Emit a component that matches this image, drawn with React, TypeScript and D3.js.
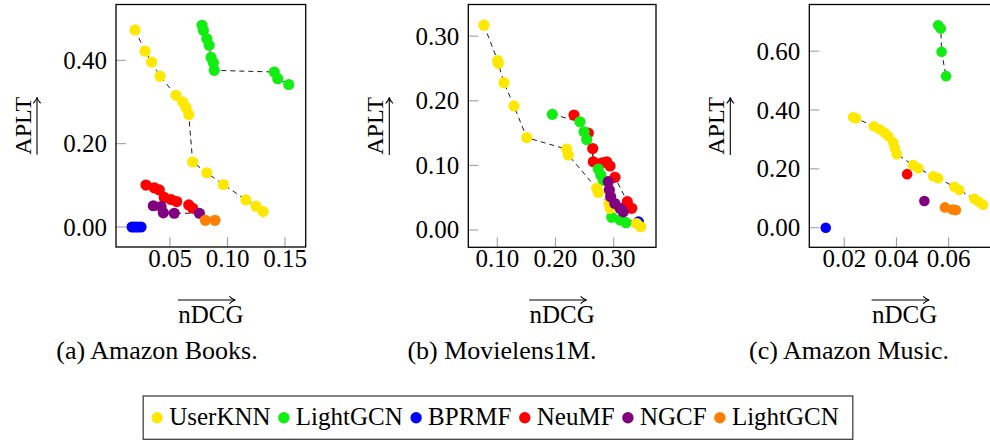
import { useEffect, useRef } from 'react';
import * as d3 from 'd3';

type Pt = [number, number];

// ── Data ──────────────────────────────────────────────────────────────
const seriesNames = ['UserKNN', 'LightGCN', 'BPRMF', 'NeuMF', 'NGCF', 'LightGCN'];
const seriesColors = ['#ffe800', '#12ee12', '#0000ff', '#ff0000', '#800080', '#ff8000'];
// which series are painted first (bottom) to last (top)
const drawOrder = [3, 1, 2, 0, 4, 5];

// (a) Amazon Books
const booksUserKNN: Pt[] = [[0.0196, 0.473], [0.0283, 0.422], [0.034, 0.396], [0.0413, 0.362], [0.0552, 0.316], [0.061, 0.300], [0.0639, 0.287], [0.0663, 0.270], [0.0697, 0.156], [0.082, 0.130], [0.0964, 0.102], [0.116, 0.065], [0.1248, 0.050], [0.131, 0.037]];
const booksLightGCN: Pt[] = [[0.0778, 0.484], [0.079, 0.472], [0.082, 0.452], [0.084, 0.436], [0.0857, 0.407], [0.0877, 0.394], [0.0885, 0.376], [0.1407, 0.372], [0.1437, 0.356], [0.1532, 0.342]];
const booksBPRMF: Pt[] = [[0.017, 0], [0.0195, 0], [0.022, 0], [0.0248, 0]];
const booksNeuMF: Pt[] = [[0.0291, 0.1006], [0.0363, 0.094], [0.0407, 0.089], [0.045, 0.071], [0.0509, 0.066], [0.0558, 0.061], [0.0663, 0.053], [0.0697, 0.045]];
const booksNGCF: Pt[] = [[0.0355, 0.051], [0.0422, 0.049], [0.0442, 0.034], [0.0537, 0.033], [0.0755, 0.033]];
const booksLightGCN2: Pt[] = [[0.0807, 0.016], [0.0891, 0.016]];

// (b) Movielens1M
const mlUserKNN: Pt[] = [[0.0771, 0.317], [0.1007, 0.262], [0.1017, 0.258], [0.1115, 0.228], [0.1287, 0.192], [0.1505, 0.143], [0.2192, 0.125], [0.222, 0.116], [0.2708, 0.0645], [0.2736, 0.058], [0.292, 0.041], [0.2937, 0.0336], [0.3395, 0.010], [0.3464, 0.005]];
const mlLightGCN: Pt[] = [[0.1945, 0.179], [0.242, 0.1675], [0.249, 0.152], [0.2536, 0.140], [0.2735, 0.0943], [0.2777, 0.085], [0.282, 0.077], [0.2966, 0.0196], [0.311, 0.0155], [0.3211, 0.0113]];
const mlBPRMF: Pt[] = [[0.3425, 0.0125]];
const mlNeuMF: Pt[] = [[0.2318, 0.178], [0.2564, 0.150], [0.2639, 0.126], [0.265, 0.1056], [0.280, 0.104], [0.288, 0.1056], [0.2937, 0.099], [0.3022, 0.0815], [0.3234, 0.0438], [0.331, 0.0336]];
const mlNGCF: Pt[] = [[0.2907, 0.0747], [0.2925, 0.062], [0.2948, 0.0515], [0.302, 0.041], [0.311, 0.0336], [0.3165, 0.028]];
const mlLightGCN2: Pt[] = [];

// (c) Amazon Music
const musicUserKNN: Pt[] = [[0.0234, 0.375], [0.0245, 0.372], [0.0313, 0.345], [0.0337, 0.334], [0.0356, 0.322], [0.0369, 0.311], [0.0388, 0.289], [0.0394, 0.270], [0.0401, 0.250], [0.0464, 0.213], [0.0484, 0.202], [0.0541, 0.175], [0.056, 0.168], [0.0622, 0.139], [0.0641, 0.128], [0.0698, 0.098], [0.0716, 0.088], [0.0732, 0.078]];
const musicLightGCN: Pt[] = [[0.056, 0.688], [0.057, 0.677], [0.0573, 0.598], [0.059, 0.515]];
const musicBPRMF: Pt[] = [[0.0129, 0.0]];
const musicNeuMF: Pt[] = [[0.0441, 0.182]];
const musicNGCF: Pt[] = [[0.0507, 0.091]];
const musicLightGCN2: Pt[] = [[0.0586, 0.069], [0.0615, 0.062], [0.0628, 0.060]];

const booksXTicks = [0.05, 0.10, 0.15];
const booksYTicks = [0, 0.2, 0.4];
const mlXTicks = [0.10, 0.20, 0.30];
const mlYTicks = [0, 0.1, 0.2, 0.3];
const musicXTicks = [0.02, 0.04, 0.06];
const musicYTicks = [0, 0.2, 0.4, 0.6];

const captions = ['(a) Amazon Books.', '(b) Movielens1M.', '(c) Amazon Music.'];

const FONT = "'Liberation Serif', Tinos, 'Times New Roman', Times, 'DejaVu Serif', serif";

const panels = [
  {
    caption: captions[0], captionX: 157,
    series: [booksUserKNN, booksLightGCN, booksBPRMF, booksNeuMF, booksNGCF, booksLightGCN2],
    xTicks: booksXTicks, yTicks: booksYTicks,
    left: 116, right: 305.7, top: 4.5, bottom: 247,
    xDomain: [0.00304, 0.168], yDomain: [-0.048, 0.534], r: 5.6,
  },
  {
    caption: captions[1], captionX: 502,
    series: [mlUserKNN, mlLightGCN, mlBPRMF, mlNeuMF, mlNGCF, mlLightGCN2],
    xTicks: mlXTicks, yTicks: mlYTicks,
    left: 468.3, right: 656, top: 4.5, bottom: 247.3,
    xDomain: [0.0502, 0.3727], yDomain: [-0.0268, 0.349], r: 5.6,
  },
  {
    caption: captions[2], captionX: 849,
    series: [musicUserKNN, musicLightGCN, musicBPRMF, musicNeuMF, musicNGCF, musicLightGCN2],
    xTicks: musicXTicks, yTicks: musicYTicks,
    left: 809.3, right: 1000, top: 4.5, bottom: 247.3,
    xDomain: [0.00659, 0.0797], yDomain: [-0.0666, 0.7586], r: 5.3,
  },
];

// LaTeX-ish long arrow head
function arrowHead(x: number, y: number, dir: 'right' | 'up') {
  if (dir === 'right') {
    return `M${x - 6},${y - 3.6} Q${x - 3},${y - 0.6} ${x},${y} Q${x - 3},${y + 0.6} ${x - 6},${y + 3.6}`;
  }
  return `M${x - 3.6},${y + 6} Q${x - 0.6},${y + 3} ${x},${y} Q${x + 0.6},${y + 3} ${x + 3.6},${y + 6}`;
}

export default function App() {
  const svgRef = useRef<SVGSVGElement>(null);

  useEffect(() => {
    const svg = d3.select(svgRef.current);
    svg.selectAll('*').remove();
    svg.style('font-family', FONT);

    panels.forEach((p) => {
      const x = d3.scaleLinear().domain(p.xDomain).range([p.left, p.right]);
      const y = d3.scaleLinear().domain(p.yDomain).range([p.bottom, p.top]);
      const g = svg.append('g');

      // ticks (inward, grey)
      g.selectAll('line.xt').data(p.xTicks).join('line')
        .attr('x1', d => x(d)).attr('x2', d => x(d))
        .attr('y1', p.bottom).attr('y2', p.bottom - 10)
        .attr('stroke', '#a0a0a0').attr('stroke-width', 1.1);
      g.selectAll('line.yt').data(p.yTicks).join('line')
        .attr('x1', p.left).attr('x2', p.left + 10)
        .attr('y1', d => y(d)).attr('y2', d => y(d))
        .attr('stroke', '#a0a0a0').attr('stroke-width', 1.1);

      // dashed connecting lines
      const line = d3.line<Pt>().x(d => x(d[0])).y(d => y(d[1]));
      drawOrder.forEach(si => {
        const pts = p.series[si];
        if (pts.length < 2) return;
        g.append('path')
          .attr('d', line(pts))
          .attr('fill', 'none')
          .attr('stroke', '#1a1a1a')
          .attr('stroke-width', 1)
          .attr('stroke-dasharray', '5,4');
      });

      // markers
      drawOrder.forEach(si => {
        g.append('g').selectAll('circle').data(p.series[si]).join('circle')
          .attr('cx', d => x(d[0]))
          .attr('cy', d => y(d[1]))
          .attr('r', p.r)
          .attr('fill', seriesColors[si]);
      });

      // frame
      g.append('rect')
        .attr('x', p.left).attr('y', p.top)
        .attr('width', p.right - p.left).attr('height', p.bottom - p.top)
        .attr('fill', 'none').attr('stroke', '#000').attr('stroke-width', 1.3);

      // tick labels
      g.selectAll('text.xl').data(p.xTicks).join('text')
        .attr('x', d => x(d)).attr('y', 267)
        .attr('text-anchor', 'middle')
        .attr('font-size', 25)
        .text(d => d.toFixed(2));
      g.selectAll('text.yl').data(p.yTicks).join('text')
        .attr('x', p.left - 9).attr('y', d => y(d))
        .attr('dy', '0.34em')
        .attr('text-anchor', 'end')
        .attr('font-size', 25)
        .text(d => d.toFixed(2));

      // x label with over-arrow
      const cx = (p.left + Math.min(p.right, 1000)) / 2;
      g.append('text')
        .attr('x', cx).attr('y', 322.7)
        .attr('text-anchor', 'middle')
        .attr('font-size', 25)
        .text('nDCG');
      g.append('line')
        .attr('x1', cx - 33).attr('x2', cx + 24)
        .attr('y1', 300).attr('y2', 300)
        .attr('stroke', '#000').attr('stroke-width', 1.1);
      g.append('path')
        .attr('d', arrowHead(cx + 24.5, 300, 'right'))
        .attr('fill', 'none').attr('stroke', '#000').attr('stroke-width', 1.1);

      // y label with under-arrow (rotated)
      const cy = (p.top + p.bottom) / 2;
      g.append('text')
        .attr('transform', `translate(${p.left - 85},${cy}) rotate(-90)`)
        .attr('text-anchor', 'middle')
        .attr('font-size', 24)
        .text('APLT');
      const ax = p.left - 79;
      g.append('line')
        .attr('x1', ax).attr('x2', ax)
        .attr('y1', cy + 29).attr('y2', cy - 28)
        .attr('stroke', '#000').attr('stroke-width', 1.1);
      g.append('path')
        .attr('d', arrowHead(ax, cy - 28.5, 'up'))
        .attr('fill', 'none').attr('stroke', '#000').attr('stroke-width', 1.1);

      // caption
      g.append('text')
        .attr('x', p.captionX).attr('y', 359)
        .attr('text-anchor', 'middle')
        .attr('font-size', 26)
        .text(p.caption);
    });

    // legend
    const leg = svg.append('g');
    const items = leg.append('g');
    let cursor = 0;
    seriesNames.forEach((name, i) => {
      items.append('circle')
        .attr('cx', cursor).attr('cy', 417.7).attr('r', 5.7)
        .attr('fill', seriesColors[i]);
      const t = items.append('text')
        .attr('x', cursor + 12).attr('y', 425)
        .attr('font-size', 25)
        .text(name);
      const w = (t.node() as SVGTextElement).getComputedTextLength();
      cursor = cursor + 12 + w + (i < seriesNames.length - 1 ? 13.3 : 0);
    });
    const innerW = cursor + 14 + 14;
    const boxLeft = 498 - innerW / 2;
    items.attr('transform', `translate(${boxLeft + 14},0)`);
    leg.insert('rect', ':first-child')
      .attr('x', boxLeft).attr('y', 396)
      .attr('width', innerW).attr('height', 43.3)
      .attr('fill', '#fff').attr('stroke', '#333').attr('stroke-width', 1.2);
  }, []);

  return (
    <div style={{ position: 'absolute', left: 0, top: 0 }}>
      <svg ref={svgRef} width={990} height={441} style={{ display: 'block' }} />
    </div>
  );
}
